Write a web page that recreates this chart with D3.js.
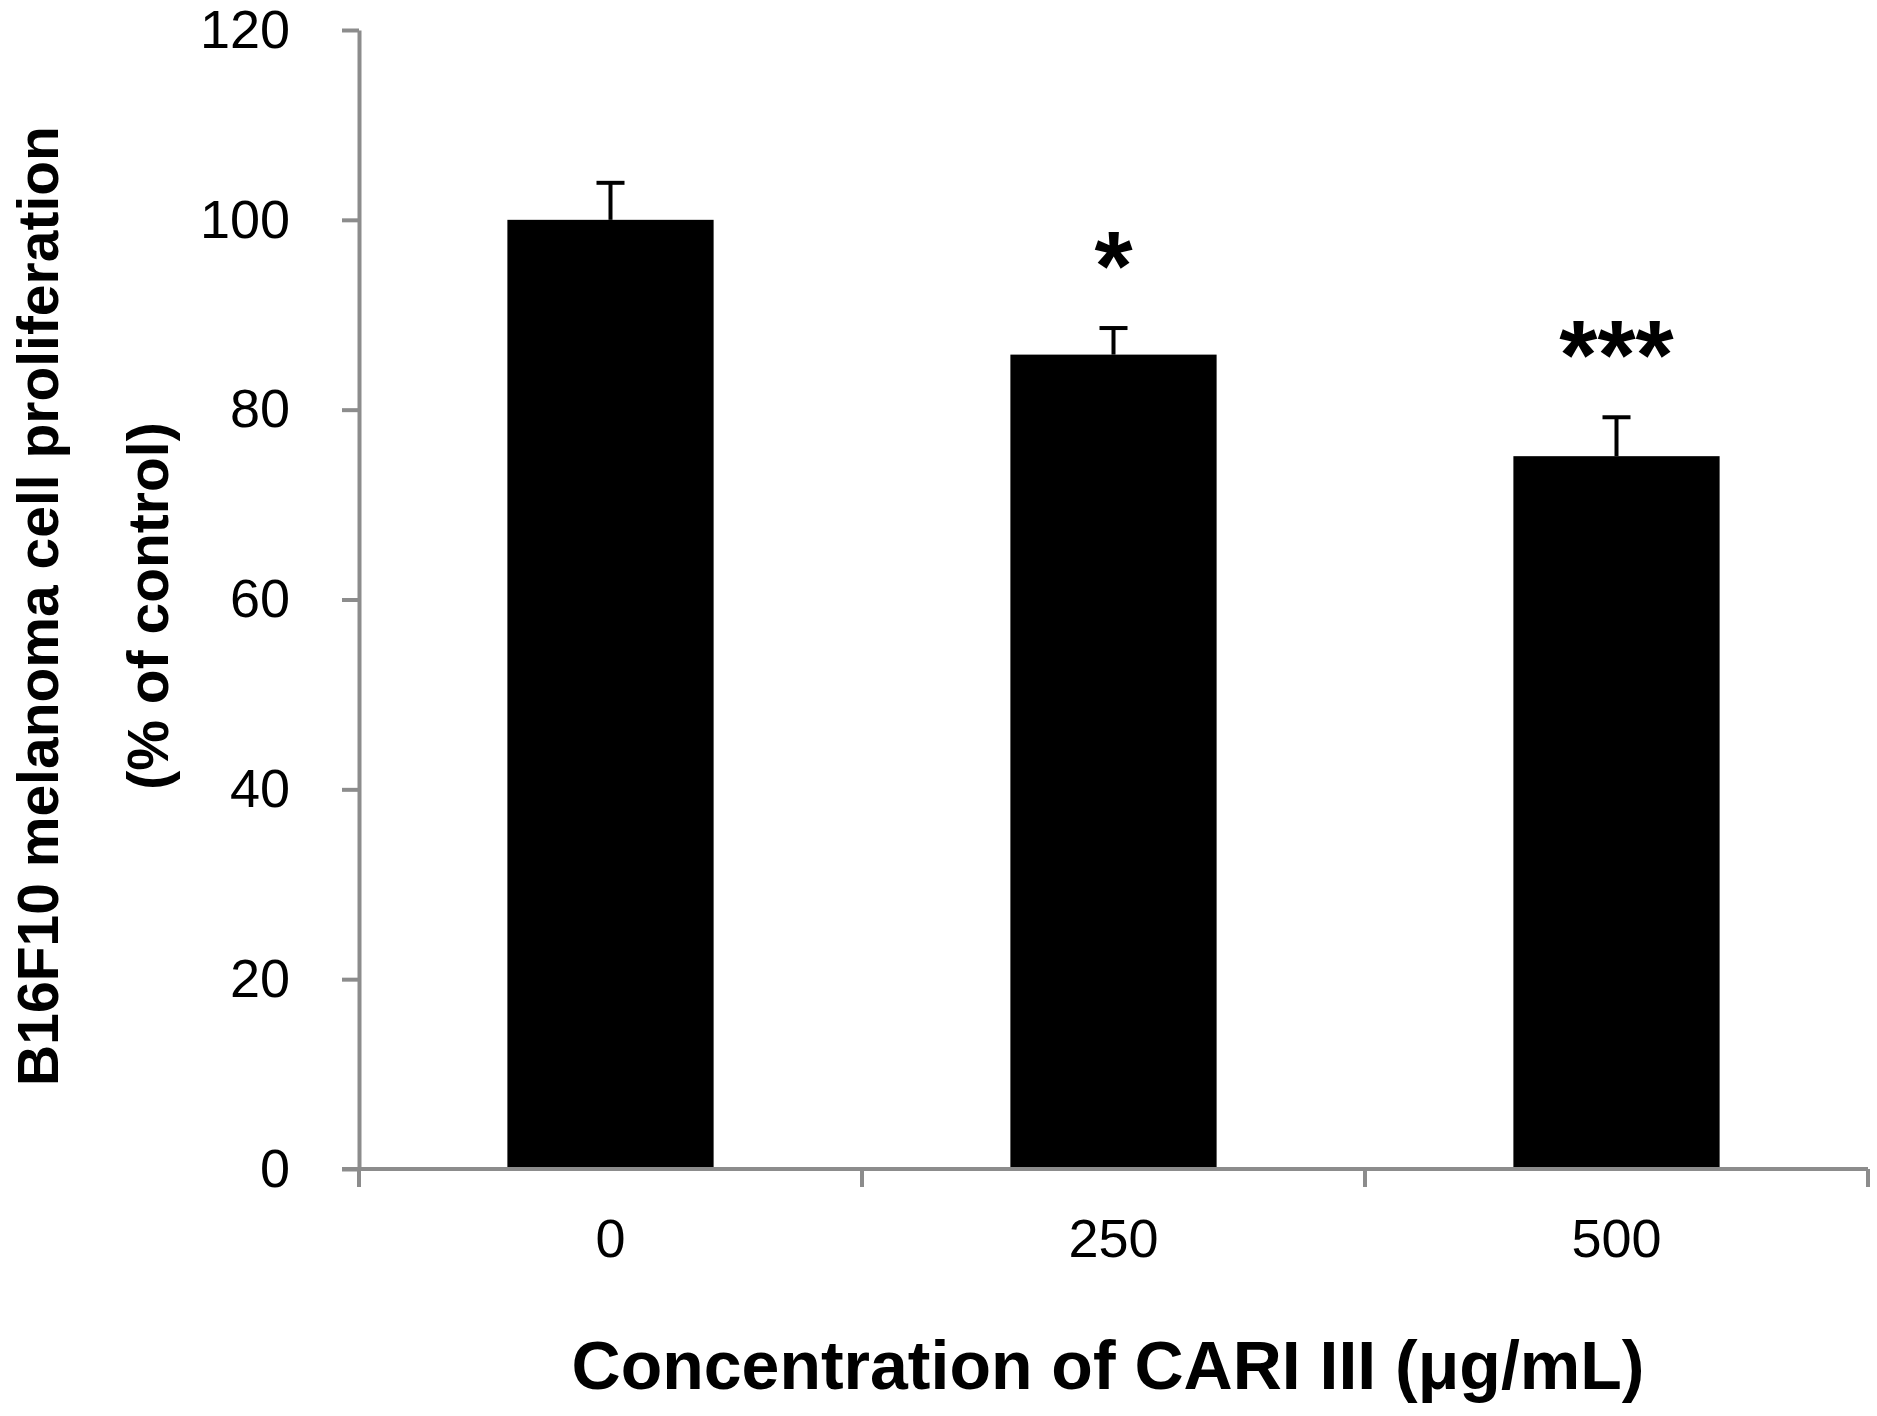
<!DOCTYPE html>
<html lang="en">
<head>
  <meta charset="utf-8">
  <title>B16F10 proliferation</title>
  <script src="https://d3js.org/d3.v7.min.js"></script>
  <style>
    body {
      margin: 0;
      background: #fff;
      font-family: 'Liberation Sans', Arial, sans-serif;
    }
    .axis path, .axis line {
      stroke: #8c8c8c;
      stroke-width: 4px;
    }
    .axis text {
      fill: #000;
      font-size: 54px;
      font-family: 'Liberation Sans', Arial, sans-serif;
    }
    .title {
      font-weight: bold;
      fill: #000;
    }
  </style>
</head>
<body>
<div id="chart"></div>

<script>
  // data
  var categories = ["0", "250", "500"];
  var means = [100, 85.8, 75.1];
  var errors = [3.9, 2.8, 4.1];
  var stars = ["", "*", "***"];
  var yTicks = [0, 20, 40, 60, 80, 100, 120];

  var W = 1877, H = 1416;
  var plotLeft = 359, plotRight = 1868, plotTop = 30, plotBottom = 1169;

  var svg = d3.select("#chart")
          .append("svg")
          .attr("width", W)
          .attr("height", H);

  var x = d3.scaleBand()
          .domain(categories)
          .range([plotLeft, plotRight])
          .padding(0);

  var y = d3.scaleLinear()
          .domain([0, 120])
          .range([plotBottom, plotTop]);

  var barW = x.bandwidth() * 0.41;

  var rows = categories.map(function(c, i) {
    return {cat: c, mean: means[i], err: errors[i], star: stars[i]};
  });

  // bars
  svg.selectAll("rect.bar")
          .data(rows)
          .enter().append("rect")
          .attr("class", "bar")
          .attr("x", d => x(d.cat) + (x.bandwidth() - barW) / 2)
          .attr("y", d => y(d.mean))
          .attr("width", barW)
          .attr("height", d => y(0) - y(d.mean))
          .attr("fill", "#000");

  // error bars (upper only)
  var cx = d => x(d.cat) + x.bandwidth() / 2;
  svg.selectAll("line.stem")
          .data(rows)
          .enter().append("line")
          .attr("class", "stem")
          .attr("x1", cx).attr("x2", cx)
          .attr("y1", d => y(d.mean))
          .attr("y2", d => y(d.mean + d.err))
          .attr("stroke", "#000")
          .attr("stroke-width", 4);
  svg.selectAll("line.cap")
          .data(rows)
          .enter().append("line")
          .attr("class", "cap")
          .attr("x1", d => cx(d) - 14).attr("x2", d => cx(d) + 14)
          .attr("y1", d => y(d.mean + d.err))
          .attr("y2", d => y(d.mean + d.err))
          .attr("stroke", "#000")
          .attr("stroke-width", 4);

  // significance stars
  svg.selectAll("text.star")
          .data(rows.filter(d => d.star))
          .enter().append("text")
          .attr("class", "title star")
          .attr("x", cx)
          .attr("y", d => y(d.mean + d.err) - 28)
          .attr("text-anchor", "middle")
          .style("font-size", "98px")
          .text(d => d.star);

  // y axis
  svg.append("g")
          .attr("class", "axis")
          .attr("transform", "translate(" + plotLeft + ",0)")
          .call(d3.axisLeft(y).tickValues(yTicks).tickSize(17).tickPadding(52).tickSizeOuter(0));

  // x axis: labels in the middle of each band, ticks on band edges
  var xAxis = svg.append("g")
          .attr("class", "axis")
          .attr("transform", "translate(0," + plotBottom + ")")
          .call(d3.axisBottom(x).tickSize(0).tickPadding(50).tickSizeOuter(0));
  xAxis.select(".domain").attr("d", "M" + (plotLeft - 17) + ",0H" + plotRight);

  var edges = categories.map(c => x(c)).concat([plotRight]);
  xAxis.selectAll("line.edge")
          .data(edges)
          .enter().append("line")
          .attr("class", "edge")
          .attr("x1", d => d).attr("x2", d => d)
          .attr("y1", 0).attr("y2", 18);

  // axis titles
  svg.append("text")
          .attr("class", "title")
          .attr("x", 1108)
          .attr("y", 1389)
          .attr("text-anchor", "middle")
          .style("font-size", "68px")
          .text("Concentration of CARI III (\u03bcg/mL)");

  var yTitle = svg.append("text")
          .attr("class", "title")
          .attr("transform", "translate(58,606) rotate(-90)")
          .attr("text-anchor", "middle")
          .style("font-size", "57px");
  yTitle.append("tspan").attr("x", 0).attr("y", 0).text("B16F10 melanoma cell proliferation");
  yTitle.append("tspan").attr("x", 0).attr("y", 110).text("(% of control)");
</script>

</body>
</html>
